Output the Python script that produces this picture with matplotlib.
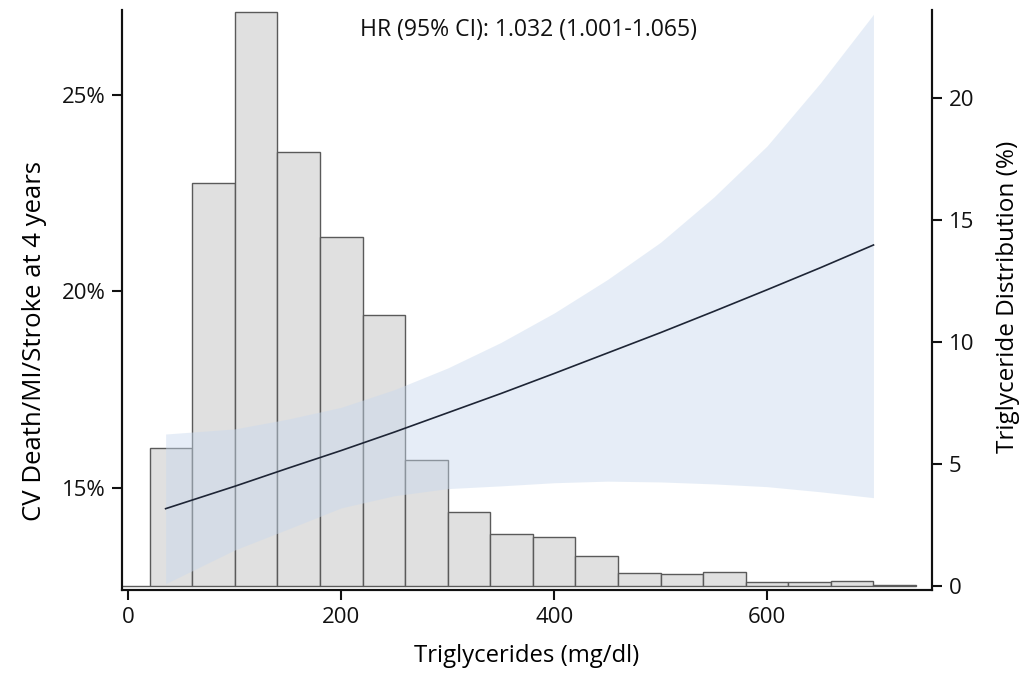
import matplotlib.pyplot as plt
import numpy as np

plt.rcParams['font.family'] = ['Open Sans', 'DejaVu Sans']

# histogram of triglycerides (bins of 40 mg/dl), % of patients
bin_edges = [-20, 20, 60, 100, 140, 180, 220, 260, 300, 340, 380, 420,
             460, 500, 540, 580, 620, 660, 700, 740]
dist_pct = [0.02, 5.66, 16.5, 23.5, 17.8, 14.3, 11.1, 5.16, 3.03, 2.13, 2.0,
            1.24, 0.55, 0.49, 0.57, 0.15, 0.15, 0.22, 0.04]

# event rate curve with 95% CI (%)
tg = [35, 100, 150, 200, 250, 300, 350, 400, 450, 500, 550, 600, 650, 700]
risk = [14.47, 15.04, 15.50, 15.95, 16.42, 16.91, 17.40, 17.91, 18.43,
        18.95, 19.49, 20.04, 20.60, 21.18]
ci_low = [12.56, 13.42, 13.95, 14.49, 14.80, 14.98, 15.05, 15.13, 15.17,
          15.15, 15.10, 15.03, 14.90, 14.75]
ci_high = [16.37, 16.50, 16.75, 17.05, 17.50, 18.05, 18.70, 19.45, 20.30,
           21.25, 22.40, 23.70, 25.30, 27.05]

hr_text = 'HR (95% CI): 1.032 (1.001-1.065)'

fig = plt.figure(figsize=(10.31, 6.75), dpi=100)
ax = fig.add_axes([0.1183, 0.1259, 0.7857, 0.8593])
ax2 = ax.twinx()

# histogram on the primary axes (scale shown on the right)
widths = np.diff(bin_edges)
ax.bar(bin_edges[:-1], dist_pct, width=widths, align='edge',
       color='#e0e0e0', edgecolor='#5a5a5a', linewidth=1.0)
ax.set_xlim(-6, 755)
ax.set_ylim(-0.16, 23.6)
ax.set_yticks([0, 5, 10, 15, 20])

# risk curve on the twin (scale shown on the left)
ax2.fill_between(tg, ci_low, ci_high, color='#c9d9ee', alpha=0.45, linewidth=0)
ax2.plot(tg, risk, color='#1e2535', linewidth=1.2)
ax2.set_ylim(12.40, 27.16)
ax2.set_yticks([15, 20, 25])
ax2.set_yticklabels(['15%', '20%', '25%'])

# swap sides: histogram scale right, risk scale left
ax.yaxis.tick_right()
ax.yaxis.set_label_position('right')
ax2.yaxis.tick_left()
ax2.yaxis.set_label_position('left')

ax.set_ylabel('Triglyceride Distribution (%)', fontsize=17.5)
ax2.set_ylabel('CV Death/MI/Stroke at 4 years', fontsize=18.5)
ax.yaxis.set_label_coords(1.079, 0.505)
ax2.yaxis.set_label_coords(-0.093, 0.43)

ax.set_xticks([0, 200, 400, 600])
ax.set_xlabel('Triglycerides (mg/dl)', fontsize=17.2, labelpad=12)

for a in (ax, ax2):
    a.spines['top'].set_visible(False)
    for s in ('left', 'right', 'bottom'):
        a.spines[s].set_linewidth(1.5)
        a.spines[s].set_color('#111111')
    a.tick_params(axis='both', direction='out', length=7, width=1.5,
                  labelsize=16, pad=5, colors='#111111')

ax2.text(0.502, 0.966, hr_text, transform=ax2.transAxes, ha='center',
         va='center', fontsize=16.6, color='#111111')

fig.savefig('out.png', dpi=100)
